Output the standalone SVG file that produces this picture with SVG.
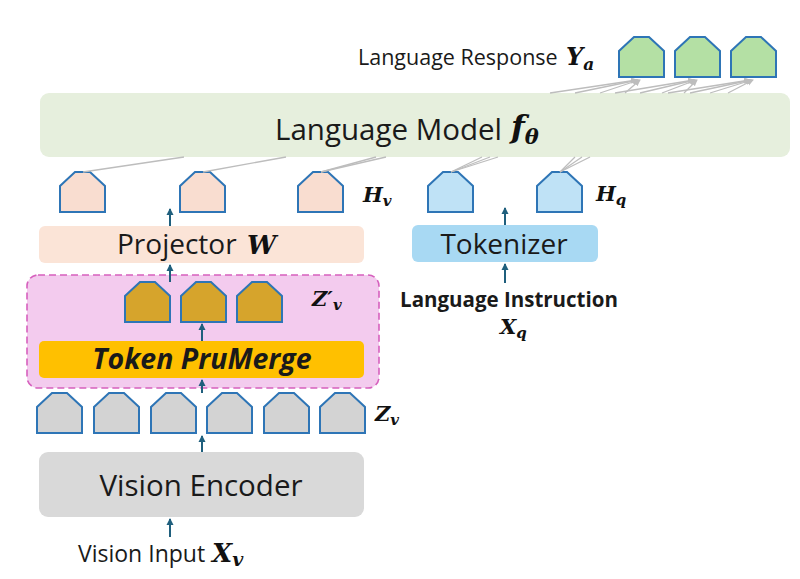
<svg xmlns="http://www.w3.org/2000/svg" xmlns:xlink="http://www.w3.org/1999/xlink" width="800" height="579" viewBox="0 0 800 579">
<defs>
<style>
.tok{stroke:#2e75b6;stroke-width:2;stroke-linejoin:miter}
.green{fill:#b4e0a4}.peach{fill:#f9ddd0}.blue{fill:#bfe2f6}.gold{fill:#d6a42c}.gray{fill:#d3d3d3}
.lbl{font-family:"Open Sans","Noto Sans",sans-serif;fill:#1a1a1a}
.math{font-family:"DejaVu Serif","Liberation Serif",serif;font-weight:bold;font-style:italic;fill:#111}
.arr{stroke:#1f5f7d;stroke-width:2;fill:none;marker-end:url(#ah)}
.gl{stroke:#bdbdbd;stroke-width:1.3;fill:none}
.gla{stroke:#bdbdbd;stroke-width:1.3;fill:none;marker-end:url(#gh)}
</style>
<path id="tok" d="M15,0 H30 L45,14 V40 H0 V14 Z"/>
<marker id="ah" markerWidth="8" markerHeight="8" refX="6" refY="4" orient="auto" markerUnits="userSpaceOnUse">
<path d="M0,0.5 L7,4 L0,7.5 Z" fill="#1f5f7d"/>
</marker>
<marker id="gh" markerWidth="8" markerHeight="8" refX="6" refY="4" orient="auto" markerUnits="userSpaceOnUse">
<path d="M0,1 L7,4 L0,7 Z" fill="#bdbdbd"/>
</marker>
</defs>
<rect width="800" height="579" fill="#ffffff"/>

<g id="language-model">
<rect x="40" y="93" width="750" height="64" rx="9" fill="#e6efdd"/>
<text x="275" y="140" class="lbl" font-size="29.5">Language Model</text>
<text x="511" y="138" class="math" font-size="32">f<tspan font-size="21" dy="6">θ</tspan></text>
</g>

<g id="language-response">
<text x="358" y="65" class="lbl" font-size="21.5">Language Response</text>
<text x="566" y="65" class="math" font-size="24">Y<tspan font-size="17" dy="5">a</tspan></text>
<use href="#tok" x="619" y="37" class="tok green"/>
<use href="#tok" x="675" y="37" class="tok green"/>
<use href="#tok" x="731" y="37" class="tok green"/>
</g>

<g id="hv-tokens">
<use href="#tok" x="60" y="172" class="tok peach"/>
<use href="#tok" x="180" y="172" class="tok peach"/>
<use href="#tok" x="298" y="172" class="tok peach"/>
<text x="363" y="202" class="math" font-size="21">H<tspan font-size="15" dy="4">v</tspan></text>
</g>

<g id="hq-tokens">
<use href="#tok" x="428" y="172" class="tok blue"/>
<use href="#tok" x="537" y="172" class="tok blue"/>
<text x="596" y="201" class="math" font-size="21">H<tspan font-size="15" dy="4">q</tspan></text>
</g>

<g id="projector">
<rect x="39" y="226" width="325" height="37" rx="6" fill="#fbe4d7"/>
<text x="117" y="254" class="lbl" font-size="28">Projector</text>
<text x="247" y="254" class="math" font-size="26">W</text>
</g>

<g id="tokenizer">
<rect x="412" y="225" width="186" height="37" rx="6" fill="#a8d9f3"/>
<text x="504" y="254" class="lbl" font-size="28" text-anchor="middle">Tokenizer</text>
</g>

<g id="language-instruction">
<text x="509" y="307" class="lbl" font-size="20.5" font-weight="bold" text-anchor="middle">Language Instruction</text>
<text x="500" y="334" class="math" font-size="21">X<tspan font-size="15" dy="4">q</tspan></text>
</g>

<g id="prumerge-group">
<rect x="27" y="275" width="352" height="113" rx="11" fill="#f3cbee" stroke="#d660bd" stroke-width="1.6" stroke-dasharray="7,4"/>
<use href="#tok" x="125" y="282" class="tok gold"/>
<use href="#tok" x="181" y="282" class="tok gold"/>
<use href="#tok" x="237" y="282" class="tok gold"/>
<text x="312" y="306" class="math" font-size="21">Z′<tspan font-size="15" dy="4">v</tspan></text>
</g>

<g id="token-prumerge">
<rect x="39" y="341" width="325" height="37" rx="5" fill="#ffc000"/>
<text x="202" y="369" class="lbl" font-size="28.5" font-weight="bold" font-style="italic" text-anchor="middle" fill="#000">Token PruMerge</text>
</g>

<g id="zv-tokens">
<use href="#tok" x="37" y="393" class="tok gray"/>
<use href="#tok" x="94" y="393" class="tok gray"/>
<use href="#tok" x="151" y="393" class="tok gray"/>
<use href="#tok" x="207" y="393" class="tok gray"/>
<use href="#tok" x="264" y="393" class="tok gray"/>
<use href="#tok" x="320" y="393" class="tok gray"/>
<text x="375" y="421" class="math" font-size="21">Z<tspan font-size="15" dy="4">v</tspan></text>
</g>

<g id="vision-encoder">
<rect x="39" y="452" width="325" height="65" rx="9" fill="#d9d9d9"/>
<text x="201" y="496" class="lbl" font-size="29.5" text-anchor="middle">Vision Encoder</text>
</g>

<g id="vision-input">
<text x="78" y="562" class="lbl" font-size="23">Vision Input</text>
<text x="212" y="562" class="math" font-size="26">X<tspan font-size="19" dy="4">v</tspan></text>
</g>

<g id="connectors">
<line x1="170" y1="537" x2="170" y2="519" class="arr"/>
<line x1="202" y1="452" x2="202" y2="436" class="arr"/>
<line x1="202" y1="393" x2="202" y2="380" class="arr"/>
<line x1="202" y1="341" x2="202" y2="324" class="arr"/>
<line x1="170" y1="282" x2="170" y2="265" class="arr"/>
<line x1="170" y1="226" x2="170" y2="209" class="arr"/>
<line x1="505" y1="283" x2="505" y2="264" class="arr"/>
<line x1="505" y1="225" x2="505" y2="208" class="arr"/>

<line x1="83" y1="172" x2="184" y2="157" class="gl"/>
<line x1="203" y1="172" x2="286" y2="157" class="gl"/>
<line x1="321" y1="172" x2="376" y2="157" class="gl"/>
<line x1="321" y1="172" x2="386" y2="157" class="gl"/>
<line x1="451" y1="172" x2="482" y2="157" class="gl"/>
<line x1="451" y1="172" x2="490" y2="157" class="gl"/>
<line x1="451" y1="172" x2="498" y2="157" class="gl"/>
<line x1="560" y1="172" x2="575" y2="157" class="gl"/>
<line x1="560" y1="172" x2="582" y2="157" class="gl"/>
<line x1="560" y1="172" x2="590" y2="157" class="gl"/>

<line x1="550" y1="93" x2="637" y2="80" class="gla"/>
<line x1="575" y1="93" x2="638" y2="80" class="gla"/>
<line x1="600" y1="93" x2="639" y2="80" class="gla"/>
<line x1="625" y1="93" x2="640" y2="80" class="gla"/>
<line x1="615" y1="93" x2="694" y2="80" class="gla"/>
<line x1="640" y1="93" x2="695" y2="80" class="gla"/>
<line x1="662" y1="93" x2="696" y2="80" class="gla"/>
<line x1="684" y1="93" x2="697" y2="80" class="gla"/>
<line x1="668" y1="93" x2="750" y2="80" class="gla"/>
<line x1="690" y1="93" x2="751" y2="80" class="gla"/>
<line x1="710" y1="93" x2="752" y2="80" class="gla"/>
<line x1="728" y1="93" x2="753" y2="80" class="gla"/>
</g>
</svg>
